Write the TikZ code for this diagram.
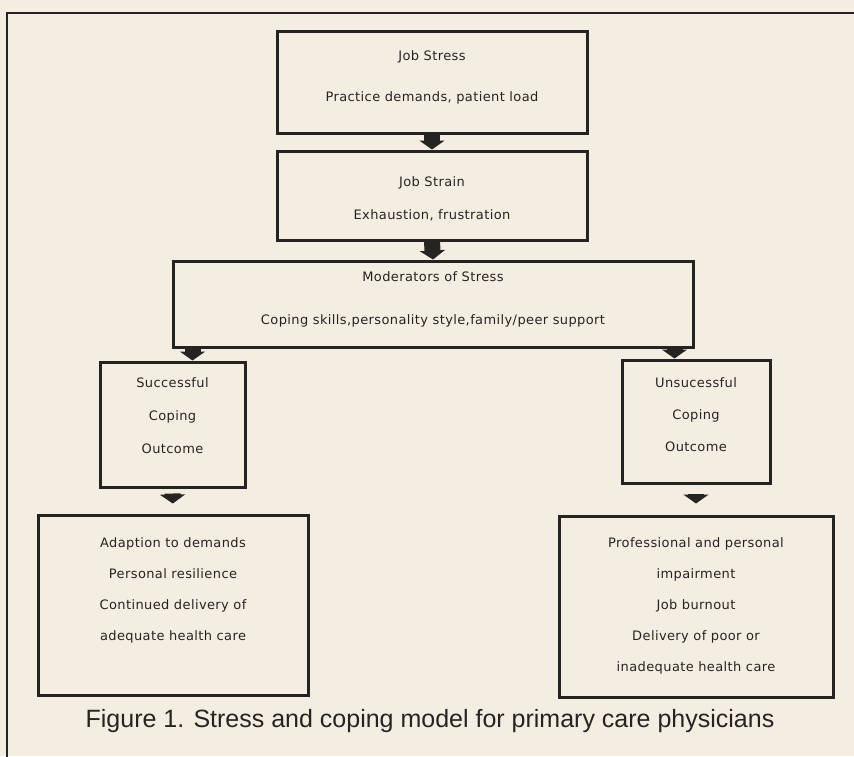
\documentclass[tikz,border=0pt]{standalone}
\usepackage{fontspec}
\setmainfont{Liberation Sans}
\newfontfamily\boxfont[LetterSpace=3]{DejaVu Sans}
\usetikzlibrary{arrows.meta,calc}

\definecolor{paper}{HTML}{F4EEE2}
\definecolor{ink}{HTML}{262422}

\begin{document}
\begin{tikzpicture}[x=1pt,y=-1pt,
  box/.style={draw=ink, line width=3pt, inner sep=0pt},
  txt/.style={align=center, text=ink, font=\boxfont\fontsize{13}{16}\selectfont},
  blockarrow/.style={draw=ink, line width=16pt, -{Triangle[width=25pt,length=9pt]}}
]

% Page and frame
\fill[paper] (0,0) rectangle (854,756);
\useasboundingbox (0,0) rectangle (854,756);
\draw[ink, line width=2.2pt] (7,760) -- (7,13) -- (860,13);

% Job stress
\node[box, minimum width=310, minimum height=102] (stress) at (432,82) {};
\node[txt] (stresslbl) at (432,77.5) {Job Stress\\[25pt]Practice demands, patient load};

% Job strain
\node[box, minimum width=310, minimum height=89] (strain) at (432,195.5) {};
\node[txt] (strainlbl) at (432,198.5) {Job Strain\\[17pt]Exhaustion, frustration};

% Moderators
\node[box, minimum width=520, minimum height=86] (mod) at (433,304) {};
\node[txt] (modlbl) at (433,299.5) {Moderators of Stress\\[27pt]Coping skills,personality style,family/peer support};

% Coping outcomes
\node[box, minimum width=145, minimum height=125] (suc) at (172.5,424.5) {};
\node[txt] (suclbl) at (172.5,416) {Successful\\[17pt]Coping\\[17pt]Outcome};

\node[box, minimum width=148, minimum height=123] (unsuc) at (696,421.5) {};
\node[txt] (unsuclbl) at (696,415) {Unsucessful\\[16pt]Coping\\[16pt]Outcome};

% Consequences
\node[box, minimum width=270, minimum height=180] (adapt) at (173,605) {};
\node[txt] (adaptlbl) at (173,590) {Adaption to demands\\[15pt]Personal resilience\\[15pt]Continued delivery of\\[15pt]adequate health care};

\node[box, minimum width=274, minimum height=181] (impair) at (696,606.5) {};
\node[txt] (impairlbl) at (696,605.5) {Professional and personal\\[15pt]impairment\\[15pt]Job burnout\\[15pt]Delivery of poor or\\[15pt]inadequate health care};

% Arrows
\draw[blockarrow] (stress.south) -- (strain.north);
\draw[blockarrow] (strain.south) -- (mod.north);

\coordinate (m1) at ($(mod.south west)+(21,0)$);
\coordinate (m2) at ($(mod.south east)+(-20,0)$);
\draw[blockarrow] (m1) -- (m1 |- suc.north);
\draw[blockarrow] (m2) -- (m2 |- unsuc.north);

\draw[blockarrow, shorten <=5pt, shorten >=10pt] (suc.south) -- (adapt.north);
\draw[blockarrow, shorten <=9pt, shorten >=11pt] (unsuc.south) -- (impair.north);

% Caption
\node[text=ink, font=\fontsize{25}{29}\selectfont] (caption) at (430,721)
{Figure 1. Stress and coping model for primary care physicians};

\end{tikzpicture}
\end{document}
